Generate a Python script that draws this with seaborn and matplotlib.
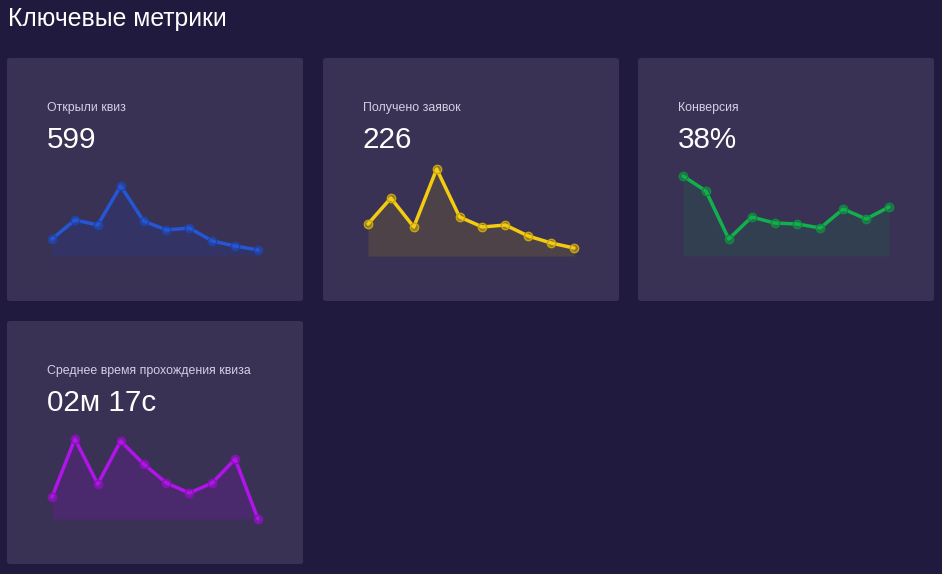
import numpy as np
import pandas as pd
import seaborn as sns
import matplotlib.pyplot as plt
from matplotlib.colors import to_rgba
from matplotlib.patches import FancyBboxPatch

# Sparkline data (10 periods each)
periods = list(range(10))
opened_quiz = [17, 36, 31, 70, 35, 26, 28, 15, 10, 6]
leads_received = [32, 58, 29, 87, 39, 29, 31, 20, 13, 8]
conversion = [80, 65, 17, 39, 33, 32, 28, 47, 37, 49]
avg_time = [22, 80, 35, 78, 55, 36, 26, 36, 60, 0]

titles = ["Открыли квиз", "Получено заявок", "Конверсия",
          "Среднее время прохождения квиза"]
values = ["599", "226", "38%", "02м 17с"]
line_colors = ["#2456d6", "#f3cb10", "#12b04d", "#b014ea"]
fill_colors = ["#333366", "#4e4249", "#323f50", "#4a2a6c"]
edge_colors = ["#1d43a8", "#c9a40c", "#0e8a3d", "#8a0fb8"]

W, H = 942, 574
BG = "#201b3e"
CARD = "#3a3254"

sns.set_theme(style="white")
plt.rcParams['font.family'] = ['Liberation Sans', 'DejaVu Sans']

fig = plt.figure(figsize=(W / 100, H / 100), dpi=100)
fig.patch.set_facecolor(BG)


def fx(px):
    return px / W


def fy(py):
    return 1 - py / H


fig.text(fx(8), fy(26), "Ключевые метрики", color="white", fontsize=17.8,
         va="baseline", ha="left")

card_pos = [(7, 58), (323, 58), (638, 58), (7, 321)]
card_w, card_h = 296, 243
series = [opened_quiz, leads_received, conversion, avg_time]

for i, (cx, cy) in enumerate(card_pos):
    card = FancyBboxPatch((fx(cx), fy(cy + card_h)), card_w / W, card_h / H,
                          boxstyle="round,pad=0,rounding_size=0.004",
                          transform=fig.transFigure, facecolor=CARD,
                          edgecolor="none", zorder=-5)
    fig.patches.append(card)

    fig.text(fx(cx + 40), fy(cy + 53), titles[i], color="#d4d0e2",
             fontsize=8.9, va="baseline", ha="left")
    fig.text(fx(cx + 40), fy(cy + 90), values[i], color="white",
             fontsize=21.3, va="baseline", ha="left")

    # sparkline area
    left, right = cx + 45, cx + 251
    base = cy + 198
    ax = fig.add_axes([fx(left), fy(base), (right - left) / W, 100 / H])
    ax.patch.set_alpha(0)
    ax.set_xlim(0, 9)
    ax.set_ylim(0, 100)
    ax.axis("off")
    df = pd.DataFrame({"period": periods, "value": series[i]})
    ax.fill_between(df["period"], df["value"], 0, color=fill_colors[i],
                    linewidth=0, zorder=1)
    sns.lineplot(data=df, x="period", y="value", ax=ax, color=line_colors[i],
                 linewidth=2.5, marker="o", markersize=6,
                 markerfacecolor=to_rgba(line_colors[i], 0.45),
                 markeredgecolor=edge_colors[i],
                 markeredgewidth=1.0, clip_on=False, zorder=3)

fig.savefig("out.png", dpi=100, facecolor=BG)
